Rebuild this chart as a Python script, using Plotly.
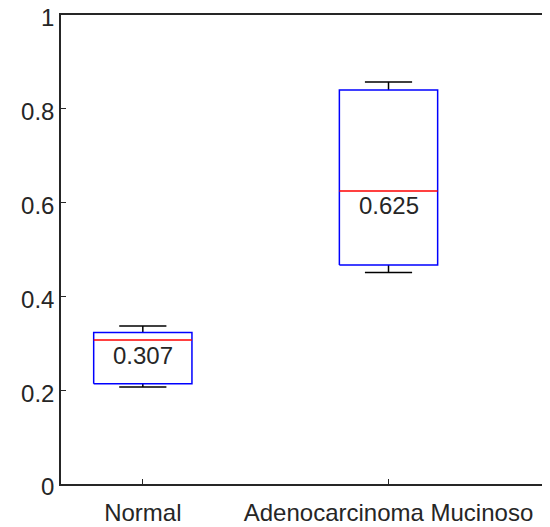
import plotly.graph_objects as go

# Data
categories = ["Normal", "Adenocarcinoma Mucinoso"]
positions = [1, 2]
lower_whisker = [0.207, 0.451]
q1 = [0.214, 0.467]
median = [0.307, 0.625]
q3 = [0.323, 0.840]
upper_whisker = [0.337, 0.857]
median_labels = ["0.307", "0.625"]
y_ticks = [0, 0.2, 0.4, 0.6, 0.8, 1]
y_tick_labels = ["0", "0.2", "0.4", "0.6", "0.8", "1"]

BOX_HALF = 0.2
CAP_HALF = 0.096
AX = "#262626"
FONT = "Liberation Sans, Arial, sans-serif"
FS = 24

fig = go.Figure()
for i, p in enumerate(positions):
    # whiskers (stems + caps)
    fig.add_trace(go.Scatter(
        x=[p, p, None, p - CAP_HALF, p + CAP_HALF, None, p, p, None, p - CAP_HALF, p + CAP_HALF],
        y=[q3[i], upper_whisker[i], None, upper_whisker[i], upper_whisker[i], None,
           q1[i], lower_whisker[i], None, lower_whisker[i], lower_whisker[i]],
        mode="lines", line=dict(color="black", width=1.5), hoverinfo="skip", showlegend=False))
    # box
    fig.add_trace(go.Scatter(
        x=[p - BOX_HALF, p + BOX_HALF, p + BOX_HALF, p - BOX_HALF, p - BOX_HALF],
        y=[q1[i], q1[i], q3[i], q3[i], q1[i]],
        mode="lines", line=dict(color="#0000FF", width=1.5), hoverinfo="skip", showlegend=False))
    # median
    fig.add_trace(go.Scatter(
        x=[p - BOX_HALF, p + BOX_HALF], y=[median[i], median[i]],
        mode="lines", line=dict(color="#FF0000", width=1.5), hoverinfo="skip", showlegend=False))
    fig.add_annotation(x=p, y=median[i], text=median_labels[i], showarrow=False,
                       xanchor="center", yanchor="middle", yshift=-15,
                       font=dict(family=FONT, size=FS, color=AX))

# page body has an 8px default margin, so the figure is sized/offset to compensate
fig.update_layout(
    width=542, height=519,
    margin=dict(l=53, r=4, t=7, b=43, autoexpand=False),
    paper_bgcolor="white", plot_bgcolor="white",
    font=dict(family=FONT, size=FS, color=AX),
)
fig.update_xaxes(range=[0.667, 2.641], tickvals=positions, ticktext=categories,
                 ticks="inside", ticklen=5, tickcolor=AX, tickwidth=1,
                 showline=True, linecolor=AX, linewidth=1.5, mirror=True,
                 showgrid=False, zeroline=False, ticklabelstandoff=6, automargin=False,
                 ticklabeloverflow="allow",
                 tickfont=dict(family=FONT, size=FS, color=AX))
fig.update_yaxes(range=[0, 1], tickvals=y_ticks, ticktext=y_tick_labels,
                 ticks="inside", ticklen=5, tickcolor=AX, tickwidth=1,
                 showline=True, linecolor=AX, linewidth=1.5, mirror=True,
                 showgrid=False, zeroline=False, ticklabelstandoff=0, automargin=False,
                 ticklabeloverflow="allow", ticklabelshift=3,
                 tickfont=dict(family=FONT, size=FS, color=AX))

fig.write_html("out.html")
